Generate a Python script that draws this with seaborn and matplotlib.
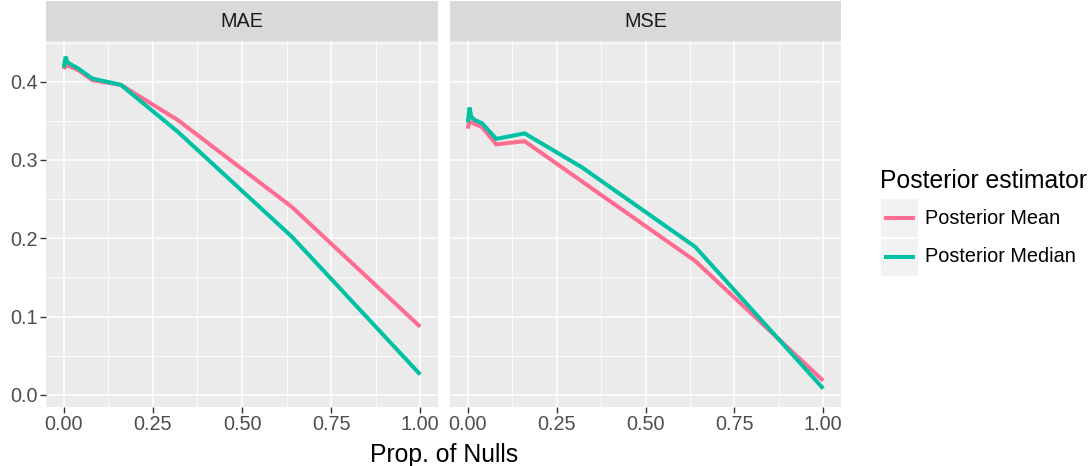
import numpy as np
import pandas as pd
import matplotlib
matplotlib.use("Agg")
import matplotlib.pyplot as plt
import seaborn as sns
from matplotlib.patches import Rectangle
from matplotlib.lines import Line2D

# ---- data ----
prop_nulls = [0.0, 0.005, 0.01, 0.02, 0.04, 0.08, 0.16, 0.32, 0.64, 1.0]
mae_mean   = [0.416, 0.422, 0.420, 0.419, 0.415, 0.402, 0.396, 0.351, 0.240, 0.087]
mae_median = [0.418, 0.432, 0.425, 0.422, 0.417, 0.404, 0.396, 0.336, 0.202, 0.026]
mse_mean   = [0.340, 0.350, 0.348, 0.346, 0.342, 0.320, 0.324, 0.273, 0.171, 0.018]
mse_median = [0.348, 0.367, 0.355, 0.351, 0.347, 0.327, 0.334, 0.291, 0.189, 0.008]
metrics = ["MAE", "MSE"]
estimators = ["Posterior Mean", "Posterior Median"]
x_ticks = [0.00, 0.25, 0.50, 0.75, 1.00]
x_ticklabels = ["0.00", "0.25", "0.50", "0.75", "1.00"]
y_ticks = [0.0, 0.1, 0.2, 0.3, 0.4]
y_ticklabels = ["0.0", "0.1", "0.2", "0.3", "0.4"]

series = {
    ("MAE", "Posterior Mean"): mae_mean,
    ("MAE", "Posterior Median"): mae_median,
    ("MSE", "Posterior Mean"): mse_mean,
    ("MSE", "Posterior Median"): mse_median,
}
rows = []
for (m, e), vals in series.items():
    for xv, yv in zip(prop_nulls, vals):
        rows.append({"metric": m, "estimator": e, "prop": xv, "value": yv})
df = pd.DataFrame(rows)

colors = {"Posterior Mean": "#FF6C91", "Posterior Median": "#00C1A3"}

sns.set_theme(style="white")
plt.rcParams["font.family"] = ["Liberation Sans", "DejaVu Sans"]

W, H = 1090, 466
fig = plt.figure(figsize=(W / 100, H / 100), dpi=100)

def fx(px):
    return px / W

def fy(py):
    return 1 - py / H

panels = [(46, 438), (450, 841)]
top, bottom = 41, 407
strip_top = 1

xlim = (-0.05, 1.05)
ylim = (-0.0155, 0.452)

TICK_FS = 14.3
TITLE_FS = 17.8

for i, (m, (l, r)) in enumerate(zip(metrics, panels)):
    ax = fig.add_axes([fx(l), fy(bottom), fx(r - l), (bottom - top) / H])
    ax.set_facecolor("#EBEBEB")
    sub = df[df["metric"] == m]
    sns.lineplot(data=sub, x="prop", y="value", hue="estimator",
                 hue_order=estimators, palette=colors, linewidth=2.9,
                 ax=ax, legend=False, estimator=None, sort=False,
                 solid_capstyle="butt", solid_joinstyle="miter")
    ax.set_xlim(*xlim)
    ax.set_ylim(*ylim)
    ax.set_xticks(x_ticks)
    ax.set_xticklabels(x_ticklabels)
    ax.set_xticks([0.125, 0.375, 0.625, 0.875], minor=True)
    ax.set_yticks(y_ticks)
    ax.set_yticks([0.05, 0.15, 0.25, 0.35, 0.45], minor=True)
    ax.grid(True, which="major", color="white", linewidth=1.1)
    ax.grid(True, which="minor", color="white", linewidth=0.55)
    ax.set_axisbelow(True)
    for s in ax.spines.values():
        s.set_visible(False)
    ax.tick_params(axis="x", which="major", length=4, width=1.0, color="#333333",
                   labelsize=TICK_FS, labelcolor="#4D4D4D", pad=2, direction="out", bottom=True)
    ax.tick_params(axis="both", which="minor", length=0)
    if i == 0:
        ax.set_yticklabels(y_ticklabels)
        ax.tick_params(axis="y", which="major", length=4, width=1.0, color="#333333",
                       labelsize=TICK_FS, labelcolor="#4D4D4D", pad=2, direction="out", left=True)
    else:
        ax.set_yticklabels([])
        ax.tick_params(axis="y", which="major", length=0)
    ax.set_xlabel("")
    ax.set_ylabel("")
    # strip
    sax = fig.add_axes([fx(l), fy(top), fx(r - l), (top - strip_top) / H])
    sax.set_facecolor("#D9D9D9")
    sax.set_xticks([])
    sax.set_yticks([])
    for s in sax.spines.values():
        s.set_visible(False)
    sax.text(0.5, 0.48, m, ha="center", va="center", fontsize=TICK_FS, color="#1A1A1A",
             transform=sax.transAxes)

fig.text(fx(444), fy(455), "Prop. of Nulls", ha="center", va="center",
         fontsize=TITLE_FS, color="black")

# legend
fig.text(fx(880), fy(181), "Posterior estimator", ha="left", va="center",
         fontsize=TITLE_FS, color="black")
key_y = [218, 257]
for e, ky in zip(estimators, key_y):
    fig.patches.append(Rectangle((fx(881), fy(ky + 18.5)), fx(37), 37 / H,
                                 transform=fig.transFigure, facecolor="#F2F2F2",
                                 edgecolor="none", zorder=1))
    fig.lines.append(Line2D([fx(884), fx(915)], [fy(ky), fy(ky)],
                            transform=fig.transFigure, color=colors[e],
                            linewidth=2.9, solid_capstyle="butt", zorder=2))
    fig.text(fx(925), fy(ky), e, ha="left", va="center", fontsize=TICK_FS, color="black")

fig.savefig("out.png", dpi=100)
